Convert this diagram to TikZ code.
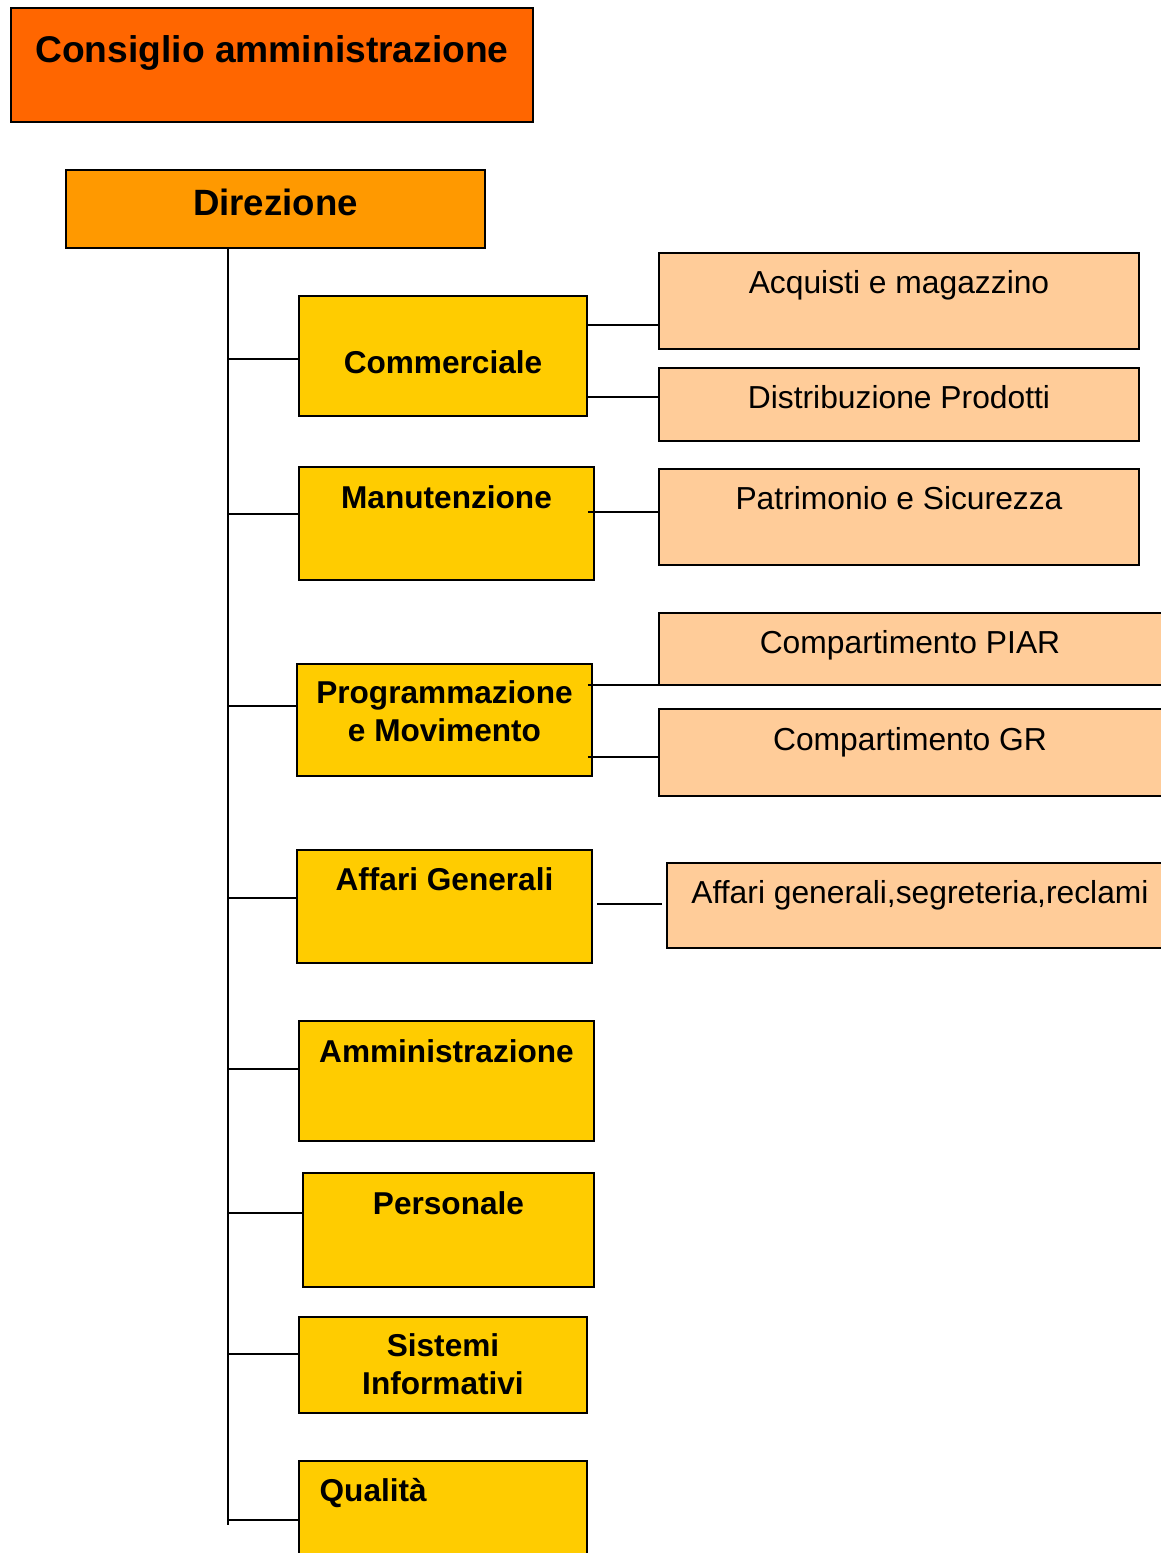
\documentclass[tikz,border=0pt]{standalone}
\usepackage{fontspec}
\setmainfont{Liberation Sans}
\usetikzlibrary{positioning}

\definecolor{consfill}{HTML}{FF6600}
\definecolor{dirfill}{HTML}{FF9900}
\definecolor{unitfill}{HTML}{FFCC00}
\definecolor{officefill}{HTML}{FFCC99}

\begin{document}
\begin{tikzpicture}[
    x=0.5pt, y=-0.5pt,
    box/.style={draw=black, line width=0.75pt, inner sep=0pt},
    wh/.style 2 args={minimum width=#1*0.5pt, minimum height=#2*0.5pt},
    unit/.style={box, fill=unitfill},
    office/.style={box, fill=officefill},
    ttl/.style={anchor=base, inner sep=0pt, align=center,
        font=\fontsize{15.8}{19}\selectfont\bfseries},
    sub/.style={anchor=base, inner sep=0pt,
        font=\fontsize{15.9}{19}\selectfont},
    link/.style={draw=black, line width=0.75pt}
]
    \useasboundingbox (0,0) rectangle (1161,1553);
    \clip (0,0) rectangle (1161,1553);

    % top of the chart
    \node[box, fill=consfill, wh={522}{114},
        label={[ttl, font=\fontsize{18.6}{22}\selectfont\bfseries, yshift=-27.5pt]north:Consiglio amministrazione}] (cons) at (272,65) {};
    \node[box, fill=dirfill, wh={419}{78},
        label={[ttl, font=\fontsize{18.3}{22}\selectfont\bfseries, yshift=-23pt]north:Direzione}] (dir) at (275.5,209) {};

    % units
    \node[unit, wh={288}{120}, label={[ttl, yshift=-39pt]north:Commerciale}] (comm) at (443,356) {};
    \node[unit, wh={295}{113}, label={[ttl, yshift=-21pt]north:Manutenzione}] (manut) at (446.5,523.5) {};
    \node[unit, wh={295}{112}, label={[ttl, yshift=-39pt]north:Programmazione\\e Movimento}] (prog) at (444.5,720) {};
    \node[unit, wh={295}{113}, label={[ttl, yshift=-20.5pt]north:Affari Generali}] (affg) at (444.5,906.5) {};
    \node[unit, wh={295}{120}, label={[ttl, yshift=-21pt]north:Amministrazione}] (amm) at (446.5,1081) {};
    \node[unit, wh={291}{114}, label={[ttl, yshift=-21pt]north:Personale}] (pers) at (448.5,1230) {};
    \node[unit, wh={288}{96}, label={[ttl, yshift=-39pt]north:Sistemi\\Informativi}] (sist) at (443,1365) {};
    \node[unit, wh={288}{139}, label={[ttl, anchor=base west, xshift=10.5pt, yshift=-20.5pt]north west:Qualità}] (qual) at (443,1530.5) {};

    % offices
    \node[office, wh={480}{96}, label={[sub, yshift=-20.5pt]north:Acquisti e magazzino}] (acq) at (899,301) {};
    \node[office, wh={480}{73}, label={[sub, yshift=-20.5pt]north:Distribuzione Prodotti}] (distr) at (899,404.5) {};
    \node[office, wh={480}{96}, label={[sub, yshift=-20.5pt]north:Patrimonio e Sicurezza}] (patr) at (899,517) {};
    \node[office, wh={511}{72}, label={[sub, xshift=-2.25pt, yshift=-20.5pt]north:Compartimento PIAR}] (piar) at (914.5,649) {};
    \node[office, wh={511}{87}, label={[sub, xshift=-2.25pt, yshift=-21pt]north:Compartimento GR}] (gr) at (914.5,752.5) {};
    \node[office, wh={506}{85}, label={[sub, yshift=-20.5pt]north:Affari generali,segreteria,reclami}] (affseg) at (920,905.5) {};

    % spine and branches
    \coordinate (spinetop) at (dir.south -| 228,0);
    \coordinate (spinebot) at (228,1525);
    \draw[link] (spinetop) -- (spinebot);
    \foreach \n/\y in {comm/359, manut/514, prog/706, affg/898, amm/1069, pers/1213, sist/1354, qual/1520}
        \draw[link] (spinetop |- 0,\y) -- (\n.west |- 0,\y);

    \draw[link] (comm.east |- 0,325) -- (acq.west |- 0,325);
    \draw[link] (comm.east |- 0,397) -- (distr.west |- 0,397);
    \draw[link] ([xshift=-3.5pt]manut.east |- 0,512) -- (patr.west |- 0,512);
    \draw[link] ([xshift=-2.5pt]prog.east |- 0,685) -- (piar.west |- 0,685);
    \draw[link] ([xshift=-2.5pt]prog.east |- 0,757) -- (gr.west |- 0,757);
    \draw[link] ([xshift=2pt]affg.east |- 0,904) -- ([xshift=-2pt]affseg.west |- 0,904);

\end{tikzpicture}
\end{document}
